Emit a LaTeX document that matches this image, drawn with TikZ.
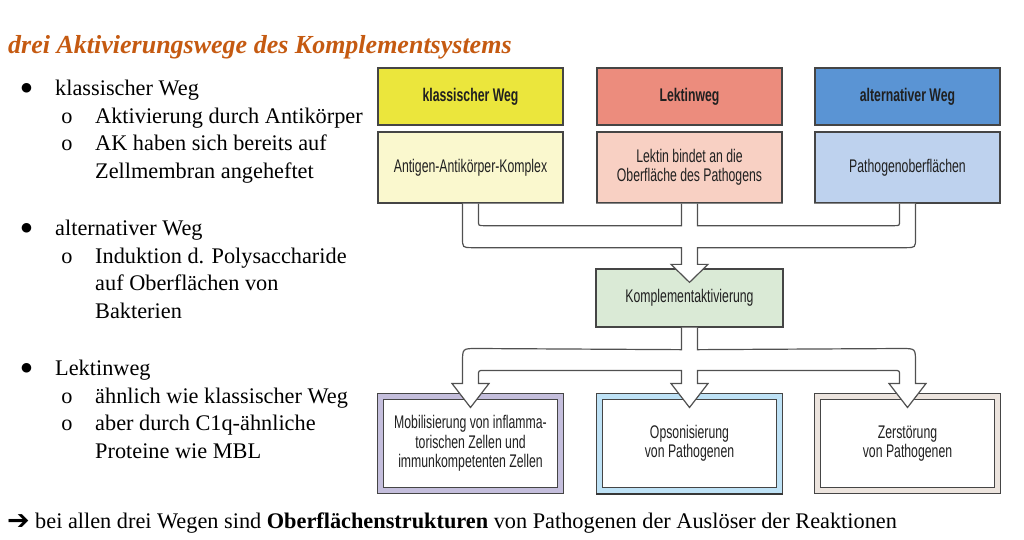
\documentclass[tikz,border=0pt]{standalone}
\usepackage{fontspec}
\setmainfont{Liberation Serif}
\newfontfamily\cnd[FakeStretch=0.67]{Liberation Sans}
\newfontfamily\dejavu{DejaVu Sans}
\usetikzlibrary{calc}

\definecolor{titleorange}{HTML}{C55A11}
\definecolor{boxline}{HTML}{454545}
\definecolor{pipeline}{HTML}{505050}
\definecolor{txt}{HTML}{202020}
\definecolor{ylwhead}{HTML}{EBE63C}
\definecolor{ylwsub}{HTML}{FAF8CE}
\definecolor{redhead}{HTML}{EC8C7D}
\definecolor{redsub}{HTML}{F8D0C3}
\definecolor{bluhead}{HTML}{5A94D4}
\definecolor{blusub}{HTML}{BED2EE}
\definecolor{grnbox}{HTML}{DAEAD6}
\definecolor{lavframe}{HTML}{C4BEDC}
\definecolor{skyframe}{HTML}{BEE2F6}
\definecolor{sandframe}{HTML}{ECE4DE}

\begin{document}
\begin{tikzpicture}[x=1pt,y=-1pt,
  body/.style={anchor=base west, inner sep=0, font=\fontsize{22.3}{27.6}\selectfont},
  dot/.style={anchor=base, inner sep=0, font=\fontsize{22.3}{27.6}\selectfont},
  bigdot/.style={anchor=center, inner sep=0, font=\dejavu\fontsize{12.5}{14}\selectfont},
  box/.style={draw=boxline, line width=1.3, minimum width=185, inner sep=0,
    align=center, text=txt, font=\cnd\fontsize{18.3}{19.5}\selectfont},
  hdr/.style={box, minimum height=57, font=\cnd\bfseries\fontsize{18.3}{19.5}\selectfont},
  sub/.style={box, minimum height=71},
  eff/.style={draw=boxline, line width=1, double distance=5, fill=white,
    minimum width=179.5, minimum height=93.5, inner sep=0, align=center,
    text=txt, font=\cnd\fontsize{18.3}{19.5}\selectfont},
  pipe/.style={draw=pipeline, line width=1.2, line join=miter}]

\useasboundingbox[fill=white] (0,0) rectangle (1024,539);

% heading
\node[anchor=base west, inner sep=0, text=titleorange,
  font=\bfseries\itshape\fontsize{26}{30}\selectfont] (title) at (8,53)
  {drei Aktivierungswege des Komplementsystems};

% bullet list
\node[bigdot] (b1) at (26.5,88) {●};
\node[body] (t1) at (55,95.5) {klassischer Weg};
\node[dot] (o11) at (67,123) {o};
\node[body] (t11) at (95,123) {Aktivierung durch Antikörper};
\node[dot] (o12) at (67,150.5) {o};
\node[body] (t12) at (95,150.5) {AK haben sich bereits auf};
\node[body] (t13) at (95,178) {Zellmembran angeheftet};

\node[bigdot] (b2) at (26.5,228) {●};
\node[body] (t2) at (55,235.5) {alternativer Weg};
\node[dot] (o21) at (67,263) {o};
\node[body] (t21) at (95,263) {Induktion d. Polysaccharide};
\node[body] (t22) at (95,290.5) {auf Oberflächen von};
\node[body] (t23) at (95,318) {Bakterien};

\node[bigdot] (b3) at (26.5,368) {●};
\node[body] (t3) at (55,375.5) {Lektinweg};
\node[dot] (o31) at (67,403) {o};
\node[body] (t31) at (95,403) {ähnlich wie klassischer Weg};
\node[dot] (o32) at (67,430.5) {o};
\node[body] (t32) at (95,430.5) {aber durch C1q-ähnliche};
\node[body] (t33) at (95,458) {Proteine wie MBL};

% closing remark
\node[anchor=base west, inner sep=0, font=\dejavu\bfseries\fontsize{27}{30}\selectfont] (arr) at (7,529) {➔};
\node[body] (fin) at (35,528) {bei allen drei Wegen sind \textbf{Oberflächenstrukturen} von Pathogenen der Auslöser der Reaktionen};

% pathway headers and triggers
\node[hdr, fill=ylwhead] (h1) at (470.5,96.5) {klassischer Weg};
\node[hdr, fill=redhead] (h2) at (689.5,96.5) {Lektinweg};
\node[hdr, fill=bluhead] (h3) at (907.5,96.5) {alternativer Weg};
\node[sub, fill=ylwsub] (s1) at (470.5,167.5) {Antigen-Antikörper-Komplex};
\node[sub, fill=redsub] (s2) at (689.5,167.5) {Lektin bindet an die\\Oberfläche des Pathogens};
\node[sub, fill=blusub] (s3) at (907.5,167.5) {Pathogenoberflächen};

% activation
\node[box, fill=grnbox, minimum width=187, minimum height=58] (k) at (689.5,298) {Komplementaktivierung};

% effects
\node[eff, double=lavframe] (e1) at (470.5,443.5) {Mobilisierung von inflamma-\\torischen Zellen und\\immunkompetenten Zellen};
\node[eff, double=skyframe] (e2) at (689.5,443.5) {Opsonisierung\\von Pathogenen};
\node[eff, double=sandframe] (e3) at (907.5,443.5) {Zerstörung\\von Pathogenen};
% darker lower edge of the opsonisation frame
\draw[boxline!80!black, line width=2.2] ([shift={(-3,3.5)}]e2.south west) -- ([shift={(3,3.5)}]e2.south east);

% merging pipe: three triggers into the activation box
\def\mergepath{($(s1.south)+(-8,0)$) -- ($(s1.south)+(-8,34)$)
  .. controls ($(s1.south)+(-8,44)$) .. ($(s1.south)+(2,44)$)
  -- ($(s2.south)+(-8,44)$) -- ($(k.north)+(-8,-4)$) -- ($(k.north)+(-18.5,-4)$)
  -- ($(k.north)+(0,14)$) -- ($(k.north)+(18.5,-4)$) -- ($(k.north)+(8,-4)$)
  -- ($(s2.south)+(8,44)$) -- ($(s3.south)+(-2,44)$)
  .. controls ($(s3.south)+(8,44)$) .. ($(s3.south)+(8,34)$) -- ($(s3.south)+(8,0)$)}
\def\innerleft{($(s1.south)+(8,0)$) -- ($(s1.south)+(8,17)$)
  .. controls ($(s1.south)+(8,22)$) .. ($(s1.south)+(13,22)$)
  -- ($(s2.south)+(-8,22)$) -- ($(s2.south)+(-8,0)$)}
\def\innerright{($(s2.south)+(8,0)$) -- ($(s2.south)+(8,22)$)
  -- ($(s3.south)+(-13,22)$) .. controls ($(s3.south)+(-8,22)$) .. ($(s3.south)+(-8,17)$)
  -- ($(s3.south)+(-8,0)$)}
\fill[white] \mergepath -- cycle;
\draw[pipe] \mergepath;
\draw[pipe] \innerleft;
\draw[pipe] \innerright;

% splitting pipe: activation into the three effects
\def\splitpath{($(k.south)+(-8,0)$) -- ($(k.south)+(-8,22)$)
  -- ($(e1.north)+(6,-47.75)$) .. controls ($(e1.north)+(-8,-47.75)$) .. ($(e1.north)+(-8,-33.75)$)
  -- ($(e1.north)+(-8,-12.75)$) -- ($(e1.north)+(-18.5,-12.75)$) -- ($(e1.north)+(0,11.25)$)
  -- ($(e1.north)+(18.5,-12.75)$) -- ($(e1.north)+(8,-12.75)$) -- ($(e1.north)+(8,-20.75)$)
  .. controls ($(e1.north)+(8,-25.75)$) .. ($(e1.north)+(13,-25.75)$)
  -- ($(e2.north)+(-8,-25.75)$) -- ($(e2.north)+(-8,-12.75)$) -- ($(e2.north)+(-18.5,-12.75)$)
  -- ($(e2.north)+(0,11.25)$) -- ($(e2.north)+(18.5,-12.75)$) -- ($(e2.north)+(8,-12.75)$)
  -- ($(e2.north)+(8,-25.75)$) -- ($(e3.north)+(-13,-25.75)$)
  .. controls ($(e3.north)+(-8,-25.75)$) .. ($(e3.north)+(-8,-20.75)$)
  -- ($(e3.north)+(-8,-12.75)$) -- ($(e3.north)+(-18.5,-12.75)$) -- ($(e3.north)+(0,11.25)$)
  -- ($(e3.north)+(18.5,-12.75)$) -- ($(e3.north)+(8,-12.75)$) -- ($(e3.north)+(8,-33.75)$)
  .. controls ($(e3.north)+(8,-47.75)$) .. ($(e3.north)+(-6,-47.75)$)
  -- ($(k.south)+(8,22)$) -- ($(k.south)+(8,0)$)}
\fill[white] \splitpath -- cycle;
\draw[pipe] \splitpath;

\end{tikzpicture}
\end{document}
